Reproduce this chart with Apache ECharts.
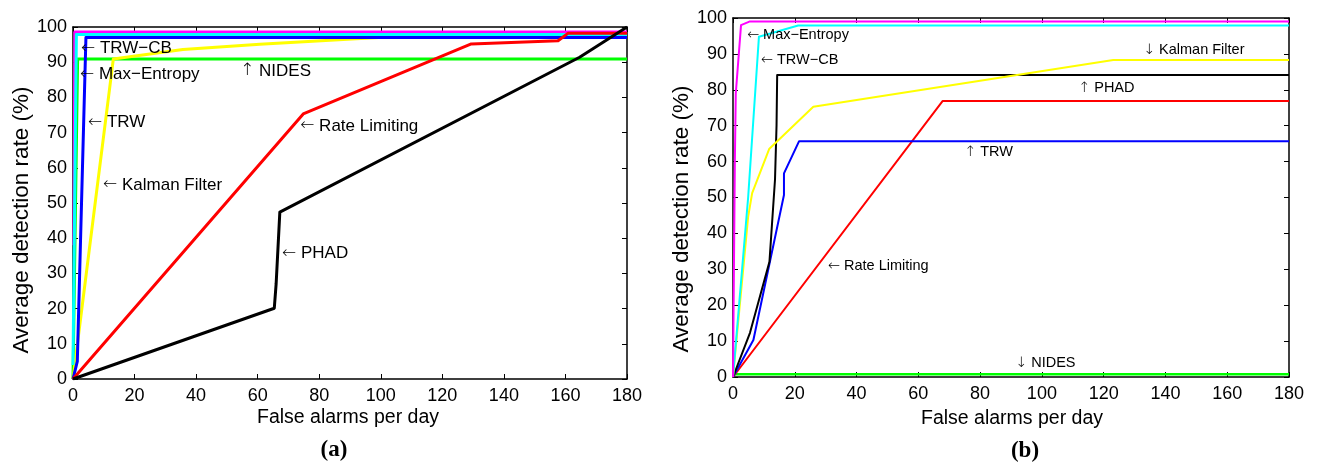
<!DOCTYPE html>
<html>
<head>
<meta charset="utf-8">
<title>Detection rate vs false alarms</title>
<script src="https://cdn.jsdelivr.net/npm/echarts@6/dist/echarts.min.js"></script>
<style>
  html, body { margin: 0; padding: 0; background: #fff; }
  #chart { width: 1317px; height: 463px; }
</style>
</head>
<body>
<div id="chart"></div>
<script>
// ---- Panel (a): [false alarms per day, average detection rate %] ----
const nidesA   = [[0, 0], [1.5, 90.9], [180, 90.9]];
const kalmanA  = [[0, 0], [13.1, 90.9], [35.7, 93.6], [60.7, 95.1], [125, 98.3], [180, 98.3]];
const maxEntA  = [[0.3, 38], [0.6, 98.6], [180, 98.6]];
const trwcbA   = [[0, 4], [1.1, 97.9], [180, 97.9]];
const trwA     = [[0, 0], [1.4, 5], [4.2, 97], [180, 97]];
const rateA    = [[0, 0], [74.8, 75.3], [129.4, 95.2], [157.6, 96.1], [160.8, 98.2], [180, 98.2]];
const phadA    = [[0, 0], [65.4, 20.1], [66, 27], [67.2, 47.4], [164.6, 91.4], [180, 100]];

// ---- Panel (b) ----
const nidesB   = [[0, 0], [0.5, 0.8], [180, 0.8]];
const rateB    = [[0, 0], [67.9, 76.9], [180, 76.9]];
const trwB     = [[0, 0], [6.6, 10.3], [16.5, 50.7], [16.5, 56.7], [21.4, 65.7], [180, 65.7]];
const phadB    = [[0, 0], [5.5, 12.3], [11.8, 32.1], [13.6, 55], [14.1, 70.2], [14.3, 84.1], [180, 84.1]];
const kalmanB  = [[0, 0], [4.9, 44.6], [6.2, 51.2], [11.7, 63.5], [26, 75.3], [123.1, 88.3], [180, 88.3]];
const trwcbB   = [[0, 0], [4.9, 50], [8.4, 94.8], [21.1, 97.9], [180, 97.9]];
const maxEntB  = [[0, 0], [0.6, 60], [0.9, 79], [2.6, 98], [5.3, 99], [180, 99]];

// Axis ticks
const xTicks = [0, 20, 40, 60, 80, 100, 120, 140, 160, 180];
const yTicks = [0, 10, 20, 30, 40, 50, 60, 70, 80, 90, 100];

// Curve annotations: [arrow, text, x, y] with x/y in data units (left edge of the arrow)
const notesA = [
  ['\u2190', 'TRW\u2212CB', 2.6, 94.0],
  ['\u2190', 'Max\u2212Entropy', 2.27, 86.6],
  ['\u2191', 'NIDES', 54.3, 87.5],
  ['\u2190', 'TRW', 4.87, 72.8],
  ['\u2190', 'Kalman Filter', 9.75, 55.1],
  ['\u2190', 'Rate Limiting', 73.8, 71.9],
  ['\u2190', 'PHAD', 67.9, 35.7]
];
const notesB = [
  ['\u2190', 'Max\u2212Entropy', 4.5, 95.3],
  ['\u2190', 'TRW\u2212CB', 9.0, 88.3],
  ['\u2193', 'Kalman Filter', 132.7, 91.1],
  ['\u2191', 'PHAD', 111.7, 80.5],
  ['\u2191', 'TRW', 74.8, 62.7],
  ['\u2190', 'Rate Limiting', 30.7, 30.9],
  ['\u2193', 'NIDES', 91.3, 3.9]
];

const FONT = "'Liberation Sans', Arial, Helvetica, sans-serif";
const ARROW_FONT = "'DejaVu Sans ExtraLight', 'DejaVu Sans', sans-serif";
const SERIF = "'Liberation Serif', 'Times New Roman', serif";

const chart = echarts.init(document.getElementById('chart'), null, { renderer: 'canvas' });

function xAx(gridIndex, pos) {
  return {
    type: 'value', gridIndex, position: pos,
    min: xTicks[0], max: xTicks[xTicks.length - 1], interval: xTicks[1] - xTicks[0],
    axisLine: { show: true, onZero: false, lineStyle: { color: '#000', width: 1.5 } },
    axisTick: { show: true, inside: true, length: 5, lineStyle: { color: '#000', width: 1 } },
    axisLabel: { show: pos === 'bottom', color: '#000', fontSize: 18, fontFamily: FONT, margin: 8 },
    splitLine: { show: false }
  };
}
function yAx(gridIndex, pos) {
  return {
    type: 'value', gridIndex, position: pos,
    min: yTicks[0], max: yTicks[yTicks.length - 1], interval: yTicks[1] - yTicks[0],
    axisLine: { show: true, onZero: false, lineStyle: { color: '#000', width: 1.5 } },
    axisTick: { show: true, inside: true, length: 5, lineStyle: { color: '#000', width: 1 } },
    axisLabel: { show: pos === 'left', color: '#000', fontSize: 18, fontFamily: FONT, margin: 6 },
    splitLine: { show: false }
  };
}

function curve(data, color, width, xi, yi) {
  return {
    type: 'line', data, xAxisIndex: xi, yAxisIndex: yi,
    symbol: 'none', showSymbol: false, clip: true,
    lineStyle: { color, width, join: 'round', cap: 'butt' },
    itemStyle: { color },
    emphasis: { disabled: true }, silent: true
  };
}

function notes(list, xi, yi, size) {
  return {
    type: 'scatter', xAxisIndex: xi, yAxisIndex: yi, z: 10, silent: true,
    symbol: 'circle', symbolSize: 0, itemStyle: { color: '#000', opacity: 1 },
    data: list.map(n => ({ value: [n[2], n[3]], name: n[1], arrow: n[0] })),
    label: {
      show: true, position: 'right', distance: 0, opacity: 1,
      formatter: p => '{a|' + p.data.arrow + '}{s| }{t|' + p.name + '}',
      rich: {
        a: { color: '#000', fontSize: size, fontFamily: ARROW_FONT, fontWeight: 200 },
        s: { color: '#000', fontSize: size, fontFamily: FONT },
        t: { color: '#000', fontSize: size, fontFamily: FONT }
      }
    },
    emphasis: { disabled: true }
  };
}

const option = {
  animation: false,
  backgroundColor: '#fff',
  grid: [
    { left: 73, top: 27, width: 554, height: 352 },
    { left: 733, top: 18, width: 556, height: 359 }
  ],
  xAxis: [xAx(0, 'bottom'), xAx(0, 'top'), xAx(1, 'bottom'), xAx(1, 'top')],
  yAxis: [yAx(0, 'left'), yAx(0, 'right'), yAx(1, 'left'), yAx(1, 'right')],
  series: [
    curve(nidesA, '#00ff00', 3, 0, 0),
    curve(kalmanA, '#ffff00', 3, 0, 0),
    curve(maxEntA, '#ff00ff', 3, 0, 0),
    curve(trwcbA, '#00ffff', 3, 0, 0),
    curve(trwA, '#0000ff', 3, 0, 0),
    curve(rateA, '#ff0000', 3, 0, 0),
    curve(phadA, '#000000', 3, 0, 0),
    notes(notesA, 0, 0, 17),

    curve(nidesB, '#00ff00', 2.5, 2, 2),
    curve(rateB, '#ff0000', 2, 2, 2),
    curve(trwB, '#0000ff', 2, 2, 2),
    curve(phadB, '#000000', 2, 2, 2),
    curve(kalmanB, '#ffff00', 2, 2, 2),
    curve(trwcbB, '#00ffff', 2, 2, 2),
    curve(maxEntB, '#ff00ff', 2, 2, 2),
    notes(notesB, 2, 2, 14.5)
  ],
  graphic: [
    { type: 'text', x: 22, y: 220, rotation: Math.PI / 2,
      style: { text: 'Average detection rate (%)', fill: '#000', font: '22.5px ' + FONT, align: 'center', verticalAlign: 'middle' } },
    { type: 'text', x: 682, y: 219, rotation: Math.PI / 2,
      style: { text: 'Average detection rate (%)', fill: '#000', font: '22.5px ' + FONT, align: 'center', verticalAlign: 'middle' } },
    { type: 'text', x: 348, y: 418,
      style: { text: 'False alarms per day', fill: '#000', font: '19.5px ' + FONT, align: 'center', verticalAlign: 'middle' } },
    { type: 'text', x: 1012, y: 419,
      style: { text: 'False alarms per day', fill: '#000', font: '19.5px ' + FONT, align: 'center', verticalAlign: 'middle' } },
    { type: 'text', x: 334, y: 450,
      style: { text: '(a)', fill: '#000', font: 'bold 23px ' + SERIF, align: 'center', verticalAlign: 'middle' } },
    { type: 'text', x: 1025, y: 451,
      style: { text: '(b)', fill: '#000', font: 'bold 23px ' + SERIF, align: 'center', verticalAlign: 'middle' } }
  ]
};

chart.setOption(option);
</script>
</body>
</html>
